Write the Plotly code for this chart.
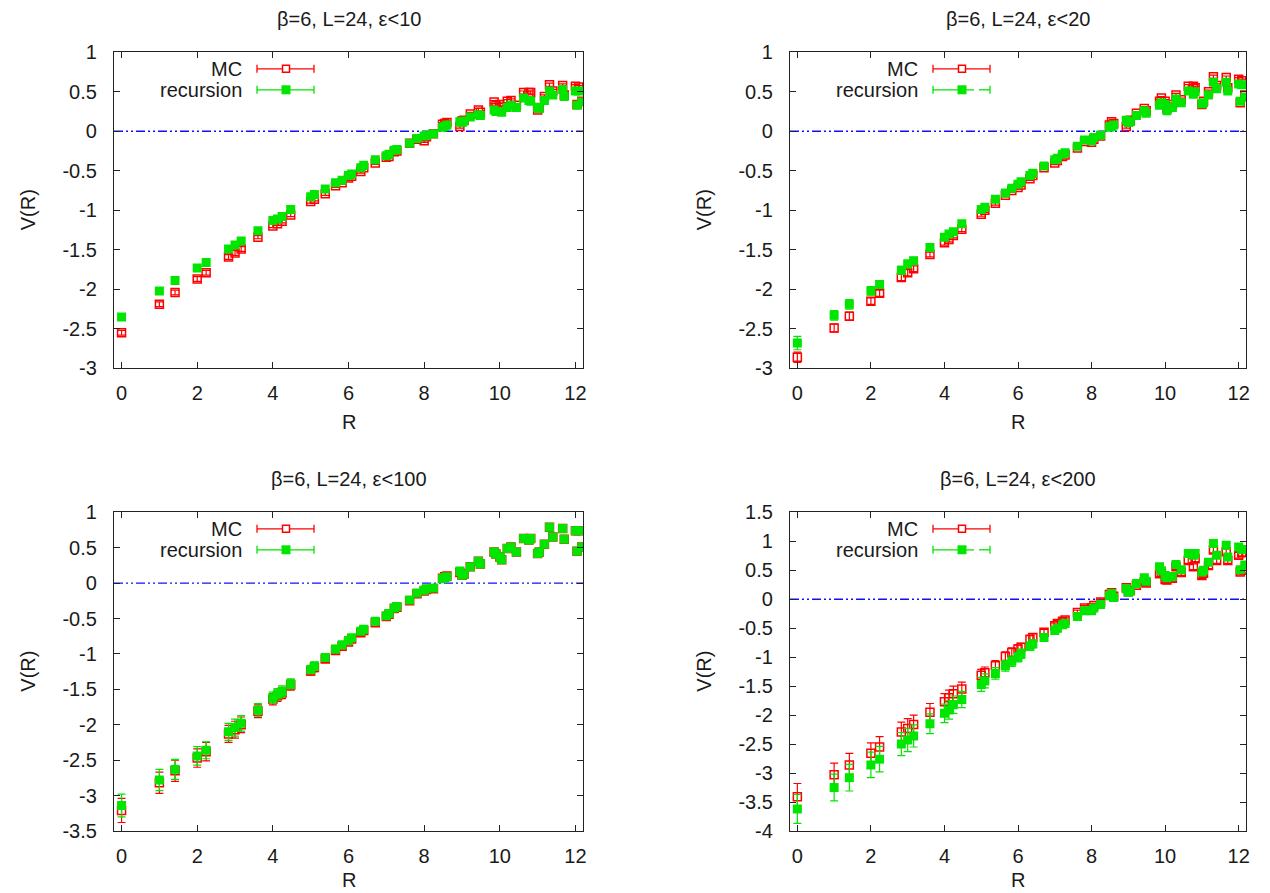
import plotly.graph_objects as go

# ---------------- data ----------------
R = [0, 1, 1.414, 2, 2.236, 2.828, 3, 3.162, 3.606, 4,
     4.123, 4.243, 4.472, 5, 5.099, 5.385, 5.657, 5.831, 6, 6.083,
     6.325, 6.403, 6.708, 7, 7.071, 7.211, 7.280, 7.616, 7.810, 8,
     8.062, 8.246, 8.485, 8.544, 8.602, 8.944, 9, 9.055, 9.220, 9.434,
     9.487, 9.849, 9.899, 10, 10.050, 10.198, 10.296, 10.440, 10.630, 10.770,
     10.817, 11, 11.045, 11.180, 11.314, 11.402, 11.662, 11.705, 12, 12.042,
     12.083, 12.166]

titles = ["β=6, L=24, ε<10", "β=6, L=24, ε<20", "β=6, L=24, ε<100", "β=6, L=24, ε<200"]
series_names = ["MC", "recursion"]

# eps < 10
mc_10 = [-2.55, -2.19, -2.04, -1.87, -1.79, -1.59, -1.54, -1.49, -1.34, -1.20,
         -1.17, -1.14, -1.06, -0.89, -0.86, -0.79, -0.69, -0.65, -0.59, -0.57,
         -0.51, -0.46, -0.40, -0.33, -0.32, -0.26, -0.25, -0.15, -0.10, -0.12,
         -0.07, -0.03, 0.09, 0.10, 0.11, 0.06, 0.13, 0.14, 0.22, 0.27,
         0.24, 0.37, 0.33, 0.34, 0.30, 0.38, 0.39, 0.33, 0.49, 0.49,
         0.49, 0.27, 0.30, 0.44, 0.59, 0.51, 0.58, 0.46, 0.57, 0.34,
         0.56, 0.38]
rec_10 = [-2.35, -2.02, -1.89, -1.73, -1.66, -1.49, -1.44, -1.39, -1.26, -1.13,
          -1.11, -1.08, -0.99, -0.83, -0.80, -0.73, -0.65, -0.62, -0.56, -0.54,
          -0.46, -0.43, -0.36, -0.31, -0.29, -0.24, -0.23, -0.15, -0.09, -0.06,
          -0.05, -0.03, 0.05, 0.06, 0.08, 0.12, 0.11, 0.13, 0.18, 0.21,
          0.20, 0.27, 0.25, 0.25, 0.24, 0.30, 0.33, 0.30, 0.42, 0.39,
          0.38, 0.30, 0.29, 0.39, 0.51, 0.46, 0.53, 0.44, 0.51, 0.33,
          0.51, 0.37]
mc_10_err = [0.03, 0.03, 0.03, 0.03, 0.03, 0.03, 0.03, 0.03, 0.02, 0.02,
             0.02, 0.02, 0.02, 0.02, 0.02, 0.02, 0.02, 0.02, 0.02, 0.02,
             0.02, 0.02, 0.02, 0.02, 0.02, 0.02, 0.02, 0.02, 0.02, 0.02,
             0.02, 0.02, 0.02, 0.02, 0.02, 0.02, 0.02, 0.02, 0.02, 0.02,
             0.02, 0.02, 0.02, 0.02, 0.02, 0.02, 0.02, 0.02, 0.02, 0.02,
             0.02, 0.02, 0.02, 0.02, 0.02, 0.02, 0.02, 0.02, 0.02, 0.02,
             0.02, 0.02]
rec_10_err = [0.03, 0.03, 0.02, 0.02, 0.02, 0.02, 0.02, 0.02, 0.02, 0.02,
              0.02, 0.02, 0.02, 0.02, 0.02, 0.02, 0.02, 0.02, 0.02, 0.02,
              0.02, 0.02, 0.02, 0.02, 0.02, 0.02, 0.02, 0.02, 0.02, 0.02,
              0.02, 0.02, 0.02, 0.02, 0.02, 0.02, 0.02, 0.02, 0.02, 0.02,
              0.02, 0.02, 0.02, 0.02, 0.02, 0.02, 0.02, 0.02, 0.02, 0.02,
              0.02, 0.02, 0.02, 0.02, 0.02, 0.02, 0.02, 0.02, 0.02, 0.02,
              0.02, 0.02]

# eps < 20
mc_20 = [-2.86, -2.49, -2.34, -2.15, -2.05, -1.85, -1.79, -1.74, -1.56, -1.41,
         -1.37, -1.32, -1.24, -1.05, -1.00, -0.91, -0.81, -0.75, -0.71, -0.68,
         -0.60, -0.56, -0.46, -0.40, -0.37, -0.32, -0.30, -0.21, -0.13, -0.14,
         -0.10, -0.06, 0.08, 0.12, 0.10, 0.06, 0.13, 0.14, 0.23, 0.29,
         0.26, 0.38, 0.42, 0.38, 0.29, 0.34, 0.46, 0.40, 0.57, 0.57,
         0.55, 0.34, 0.38, 0.50, 0.69, 0.58, 0.68, 0.55, 0.66, 0.36,
         0.64, 0.46]
rec_20 = [-2.68, -2.33, -2.19, -2.02, -1.94, -1.76, -1.68, -1.64, -1.47, -1.34,
          -1.30, -1.27, -1.17, -0.99, -0.96, -0.86, -0.78, -0.72, -0.67, -0.64,
          -0.56, -0.53, -0.44, -0.36, -0.34, -0.29, -0.27, -0.19, -0.11, -0.12,
          -0.08, -0.05, 0.05, 0.06, 0.08, 0.14, 0.11, 0.12, 0.20, 0.26,
          0.23, 0.33, 0.36, 0.34, 0.26, 0.30, 0.41, 0.36, 0.51, 0.47,
          0.50, 0.35, 0.36, 0.46, 0.62, 0.54, 0.62, 0.51, 0.60, 0.38,
          0.59, 0.43]
mc_20_err = [0.065, 0.05, 0.05, 0.04, 0.04, 0.04, 0.04, 0.035, 0.03, 0.03,
             0.03, 0.03, 0.03, 0.025, 0.025, 0.025, 0.02, 0.02, 0.02, 0.02,
             0.02, 0.02, 0.02, 0.02, 0.02, 0.02, 0.02, 0.02, 0.02, 0.02,
             0.02, 0.02, 0.02, 0.02, 0.02, 0.02, 0.02, 0.02, 0.02, 0.02,
             0.02, 0.02, 0.02, 0.02, 0.02, 0.02, 0.02, 0.02, 0.02, 0.02,
             0.02, 0.02, 0.02, 0.02, 0.02, 0.02, 0.02, 0.02, 0.02, 0.02,
             0.02, 0.02]
rec_20_err = [0.085, 0.06, 0.06, 0.055, 0.05, 0.05, 0.05, 0.045, 0.04, 0.04,
              0.035, 0.035, 0.035, 0.03, 0.03, 0.03, 0.025, 0.025, 0.025, 0.025,
              0.02, 0.02, 0.02, 0.02, 0.02, 0.02, 0.02, 0.02, 0.02, 0.02,
              0.02, 0.02, 0.02, 0.02, 0.02, 0.02, 0.02, 0.02, 0.02, 0.02,
              0.02, 0.02, 0.02, 0.02, 0.02, 0.02, 0.02, 0.02, 0.02, 0.02,
              0.02, 0.02, 0.02, 0.02, 0.02, 0.02, 0.02, 0.02, 0.02, 0.02,
              0.02, 0.02]

# eps < 100
mc_100 = [-3.21, -2.82, -2.65, -2.47, -2.38, -2.13, -2.07, -2.00, -1.81, -1.64,
          -1.59, -1.55, -1.44, -1.24, -1.19, -1.07, -0.95, -0.89, -0.83, -0.79,
          -0.70, -0.67, -0.56, -0.47, -0.44, -0.36, -0.34, -0.25, -0.15, -0.11,
          -0.09, -0.08, 0.07, 0.09, 0.10, 0.15, 0.11, 0.13, 0.23, 0.31,
          0.27, 0.44, 0.41, 0.37, 0.33, 0.49, 0.51, 0.44, 0.63, 0.61,
          0.63, 0.42, 0.44, 0.55, 0.79, 0.65, 0.77, 0.62, 0.74, 0.45,
          0.74, 0.51]
rec_100 = [-3.14, -2.78, -2.63, -2.44, -2.36, -2.10, -2.04, -1.98, -1.79, -1.62,
           -1.57, -1.53, -1.42, -1.22, -1.17, -1.05, -0.93, -0.87, -0.81, -0.77,
           -0.68, -0.65, -0.54, -0.46, -0.43, -0.35, -0.33, -0.24, -0.14, -0.10,
           -0.08, -0.07, 0.06, 0.08, 0.09, 0.17, 0.11, 0.13, 0.23, 0.31,
           0.27, 0.44, 0.41, 0.37, 0.33, 0.49, 0.51, 0.44, 0.63, 0.61,
           0.63, 0.42, 0.44, 0.55, 0.79, 0.65, 0.77, 0.62, 0.74, 0.45,
           0.74, 0.51]
mc_100_err = [0.17, 0.15, 0.15, 0.13, 0.13, 0.12, 0.12, 0.11, 0.09, 0.08,
              0.08, 0.08, 0.07, 0.06, 0.06, 0.05, 0.05, 0.04, 0.04, 0.04,
              0.04, 0.03, 0.03, 0.03, 0.03, 0.03, 0.03, 0.03, 0.03, 0.03,
              0.02, 0.02, 0.02, 0.02, 0.02, 0.02, 0.02, 0.02, 0.02, 0.02,
              0.02, 0.02, 0.02, 0.02, 0.02, 0.02, 0.02, 0.02, 0.02, 0.02,
              0.02, 0.02, 0.02, 0.02, 0.02, 0.02, 0.02, 0.02, 0.02, 0.02,
              0.02, 0.02]
rec_100_err = [0.16, 0.15, 0.14, 0.13, 0.12, 0.12, 0.12, 0.11, 0.09, 0.08,
               0.08, 0.08, 0.07, 0.06, 0.06, 0.05, 0.05, 0.04, 0.04, 0.04,
               0.04, 0.03, 0.03, 0.03, 0.03, 0.03, 0.03, 0.03, 0.03, 0.03,
               0.02, 0.02, 0.02, 0.02, 0.02, 0.02, 0.02, 0.02, 0.02, 0.02,
               0.02, 0.02, 0.02, 0.02, 0.02, 0.02, 0.02, 0.02, 0.02, 0.02,
               0.02, 0.02, 0.02, 0.02, 0.02, 0.02, 0.02, 0.02, 0.02, 0.02,
               0.02, 0.02]

# eps < 200
mc_200 = [-3.41, -3.03, -2.86, -2.66, -2.55, -2.29, -2.23, -2.16, -1.95, -1.77,
          -1.70, -1.63, -1.55, -1.31, -1.27, -1.15, -0.99, -0.92, -0.86, -0.83,
          -0.69, -0.66, -0.57, -0.46, -0.42, -0.38, -0.36, -0.23, -0.15, -0.15,
          -0.11, -0.05, 0.08, 0.11, 0.05, 0.20, 0.13, 0.15, 0.24, 0.30,
          0.28, 0.44, 0.45, 0.34, 0.33, 0.36, 0.56, 0.46, 0.67, 0.56,
          0.70, 0.41, 0.45, 0.58, 0.85, 0.67, 0.82, 0.67, 0.76, 0.47,
          0.80, 0.50]
rec_200 = [-3.62, -3.25, -3.08, -2.86, -2.76, -2.50, -2.43, -2.36, -2.15, -1.97,
           -1.91, -1.82, -1.73, -1.47, -1.41, -1.28, -1.15, -1.07, -1.00, -0.94,
           -0.81, -0.77, -0.66, -0.54, -0.50, -0.44, -0.42, -0.30, -0.20, -0.20,
           -0.15, -0.09, 0.06, 0.10, 0.03, 0.18, 0.12, 0.14, 0.27, 0.37,
           0.31, 0.56, 0.49, 0.41, 0.37, 0.39, 0.60, 0.51, 0.79, 0.76,
           0.79, 0.47, 0.50, 0.64, 0.96, 0.76, 0.93, 0.73, 0.90, 0.51,
           0.86, 0.59]
mc_200_err = [0.23, 0.20, 0.20, 0.18, 0.18, 0.17, 0.17, 0.16, 0.15, 0.14,
              0.13, 0.13, 0.12, 0.10, 0.10, 0.09, 0.08, 0.08, 0.07, 0.07,
              0.06, 0.06, 0.05, 0.05, 0.05, 0.04, 0.04, 0.04, 0.04, 0.04,
              0.04, 0.04, 0.04, 0.04, 0.04, 0.04, 0.04, 0.04, 0.04, 0.04,
              0.05, 0.05, 0.05, 0.05, 0.05, 0.05, 0.05, 0.05, 0.05, 0.05,
              0.05, 0.05, 0.05, 0.05, 0.05, 0.05, 0.05, 0.05, 0.05, 0.05,
              0.05, 0.05]
rec_200_err = [0.25, 0.23, 0.23, 0.22, 0.22, 0.20, 0.20, 0.19, 0.17, 0.16,
               0.16, 0.15, 0.14, 0.12, 0.12, 0.10, 0.09, 0.09, 0.08, 0.08,
               0.07, 0.07, 0.06, 0.06, 0.06, 0.05, 0.05, 0.05, 0.05, 0.05,
               0.05, 0.05, 0.05, 0.05, 0.05, 0.05, 0.05, 0.05, 0.05, 0.05,
               0.05, 0.05, 0.05, 0.05, 0.05, 0.05, 0.05, 0.05, 0.05, 0.05,
               0.05, 0.05, 0.05, 0.05, 0.05, 0.05, 0.05, 0.05, 0.05, 0.05,
               0.05, 0.05]

x_tick_vals = [0, 2, 4, 6, 8, 10, 12]
x_tick_text = ["0", "2", "4", "6", "8", "10", "12"]
y_ticks_top = [-3, -2.5, -2, -1.5, -1, -0.5, 0, 0.5, 1]
y_text_top = ["-3", "-2.5", "-2", "-1.5", "-1", "-0.5", "0", "0.5", "1"]
y_ticks_100 = [-3.5, -3, -2.5, -2, -1.5, -1, -0.5, 0, 0.5, 1]
y_text_100 = ["-3.5", "-3", "-2.5", "-2", "-1.5", "-1", "-0.5", "0", "0.5", "1"]
y_ticks_200 = [-4, -3.5, -3, -2.5, -2, -1.5, -1, -0.5, 0, 0.5, 1, 1.5]
y_text_200 = ["-4", "-3.5", "-3", "-2.5", "-2", "-1.5", "-1", "-0.5", "0", "0.5", "1", "1.5"]

# ---------------- layout geometry (screen pixels) ----------------
SCREEN_W, SCREEN_H = 1270, 893
PAGE_MARGIN = 8  # default body margin of the html page
W, H = SCREEN_W - PAGE_MARGIN, SCREEN_H - PAGE_MARGIN
FONT = "Liberation Sans, Arial, Helvetica, sans-serif"
RED = "#ff0000"
GREEN = "#00e600"
BLUE = "#1010ff"
TXT = "#1a1a1a"

panels = [
    dict(L=114, Rg=583, T=52.3, B=368.3, yr=[-3, 1], yt=y_ticks_top, ytt=y_text_top,
         mc=mc_10, rec=rec_10, mce=mc_10_err, rece=rec_10_err, gap=False, rlab=54),
    dict(L=790, Rg=1246, T=52.3, B=368.3, yr=[-3, 1], yt=y_ticks_top, ytt=y_text_top,
         mc=mc_20, rec=rec_20, mce=mc_20_err, rece=rec_20_err, gap=True, rlab=54),
    dict(L=114, Rg=583, T=512.3, B=831, yr=[-3.5, 1], yt=y_ticks_100, ytt=y_text_100,
         mc=mc_100, rec=rec_100, mce=mc_100_err, rece=rec_100_err, gap=False, rlab=49),
    dict(L=790, Rg=1246, T=512.3, B=831, yr=[-4, 1.5], yt=y_ticks_200, ytt=y_text_200,
         mc=mc_200, rec=rec_200, mce=mc_200_err, rece=rec_200_err, gap=True, rlab=49),
]


def px(x):
    return (x - PAGE_MARGIN) / W


def py(y):
    return 1 - (y - PAGE_MARGIN) / H


fig = go.Figure()
layout = dict(width=W, height=H, margin=dict(l=0, r=0, t=0, b=0, pad=0, autoexpand=False),
              paper_bgcolor="white", plot_bgcolor="white", showlegend=False,
              font=dict(family=FONT, size=20, color=TXT))
annotations = []
shapes = []

for i, p in enumerate(panels):
    n = "" if i == 0 else str(i + 1)
    xa, ya = "x" + n, "y" + n
    common = dict(ticks="inside", ticklen=6, tickwidth=1, tickcolor="#222",
                  mirror="allticks", showline=True, linecolor="#222", linewidth=1.3,
                  showgrid=False, zeroline=False, automargin=False,
                  tickfont=dict(family=FONT, size=20, color=TXT))
    layout["xaxis" + n] = dict(domain=[px(p["L"]), px(p["Rg"])], range=[-0.2, 12.2],
                               tickvals=x_tick_vals, ticktext=x_tick_text,
                               anchor=ya, ticklabelstandoff=7, **common)
    layout["yaxis" + n] = dict(domain=[py(p["B"]), py(p["T"])], range=p["yr"],
                               tickvals=p["yt"], ticktext=p["ytt"],
                               anchor=xa, ticklabelstandoff=12, **common)

    fig.add_trace(go.Scatter(
        x=R, y=p["mc"], mode="markers", name=series_names[0], xaxis=xa, yaxis=ya,
        marker=dict(symbol="square-open", size=8, color=RED, line=dict(width=1.5, color=RED)),
        error_y=dict(type="data", array=p["mce"], color=RED, thickness=1.2, width=4),
        cliponaxis=True))
    fig.add_trace(go.Scatter(
        x=R, y=p["rec"], mode="markers", name=series_names[1], xaxis=xa, yaxis=ya,
        marker=dict(symbol="square", size=9, color=GREEN, line=dict(width=0)),
        error_y=dict(type="data", array=p["rece"], color=GREEN, thickness=1.2, width=4),
        cliponaxis=True))

    # zero reference line
    shapes.append(dict(type="line", xref=xa + " domain", x0=0, x1=1, yref=ya, y0=0, y1=0,
                       line=dict(color=BLUE, width=1.4, dash="9px,3px,2px,3px,2px,3px"),
                       layer="below"))

    cx = (p["L"] + p["Rg"]) / 2
    # title
    annotations.append(dict(text=titles[i], x=px(cx), y=py(p["T"] - 33), xref="paper", yref="paper",
                            xanchor="center", yanchor="middle", showarrow=False,
                            font=dict(family=FONT, size=20, color=TXT)))
    # x title
    annotations.append(dict(text="R", x=px(cx), y=py(p["B"] + p["rlab"]), xref="paper", yref="paper",
                            xanchor="center", yanchor="middle", showarrow=False,
                            font=dict(family=FONT, size=20, color=TXT)))
    # y title
    annotations.append(dict(text="V(R)", x=px(p["L"] - 86), y=py((p["T"] + p["B"]) / 2),
                            xref="paper", yref="paper", textangle=-90,
                            xanchor="center", yanchor="middle", showarrow=False,
                            font=dict(family=FONT, size=20, color=TXT)))

    # in-plot key (gnuplot style: text, then sample)
    rows = [(p["T"] + 16.5, series_names[0], RED, False), (p["T"] + 37.5, series_names[1], GREEN, True)]
    for yy, label, col, filled in rows:
        annotations.append(dict(text=label, x=px(p["L"] + 130), y=py(yy), xref="paper", yref="paper",
                                xanchor="right", yanchor="middle", showarrow=False,
                                font=dict(family=FONT, size=20, color=TXT)))
        x0, x1, xm = p["L"] + 143, p["L"] + 200, p["L"] + 172
        if filled and p["gap"]:
            segs = [(x0, xm + 12), (xm + 17, x1)]
        else:
            segs = [(x0, x1)]
        for a, b in segs:
            shapes.append(dict(type="line", xref="paper", yref="paper", x0=px(a), x1=px(b),
                               y0=py(yy), y1=py(yy), line=dict(color=col, width=1.3)))
        for xc in (x0, x1):
            shapes.append(dict(type="line", xref="paper", yref="paper", x0=px(xc), x1=px(xc),
                               y0=py(yy - 4), y1=py(yy + 4), line=dict(color=col, width=1.3)))
        half = 4.5 if filled else 3.5
        shapes.append(dict(type="rect", xref="paper", yref="paper",
                           x0=px(xm - half), x1=px(xm + half), y0=py(yy + half), y1=py(yy - half),
                           fillcolor=col if filled else "white",
                           line=dict(color=col, width=0 if filled else 1.5)))

layout["annotations"] = annotations
layout["shapes"] = shapes
fig.update_layout(**layout)
fig.write_html("out.html")
